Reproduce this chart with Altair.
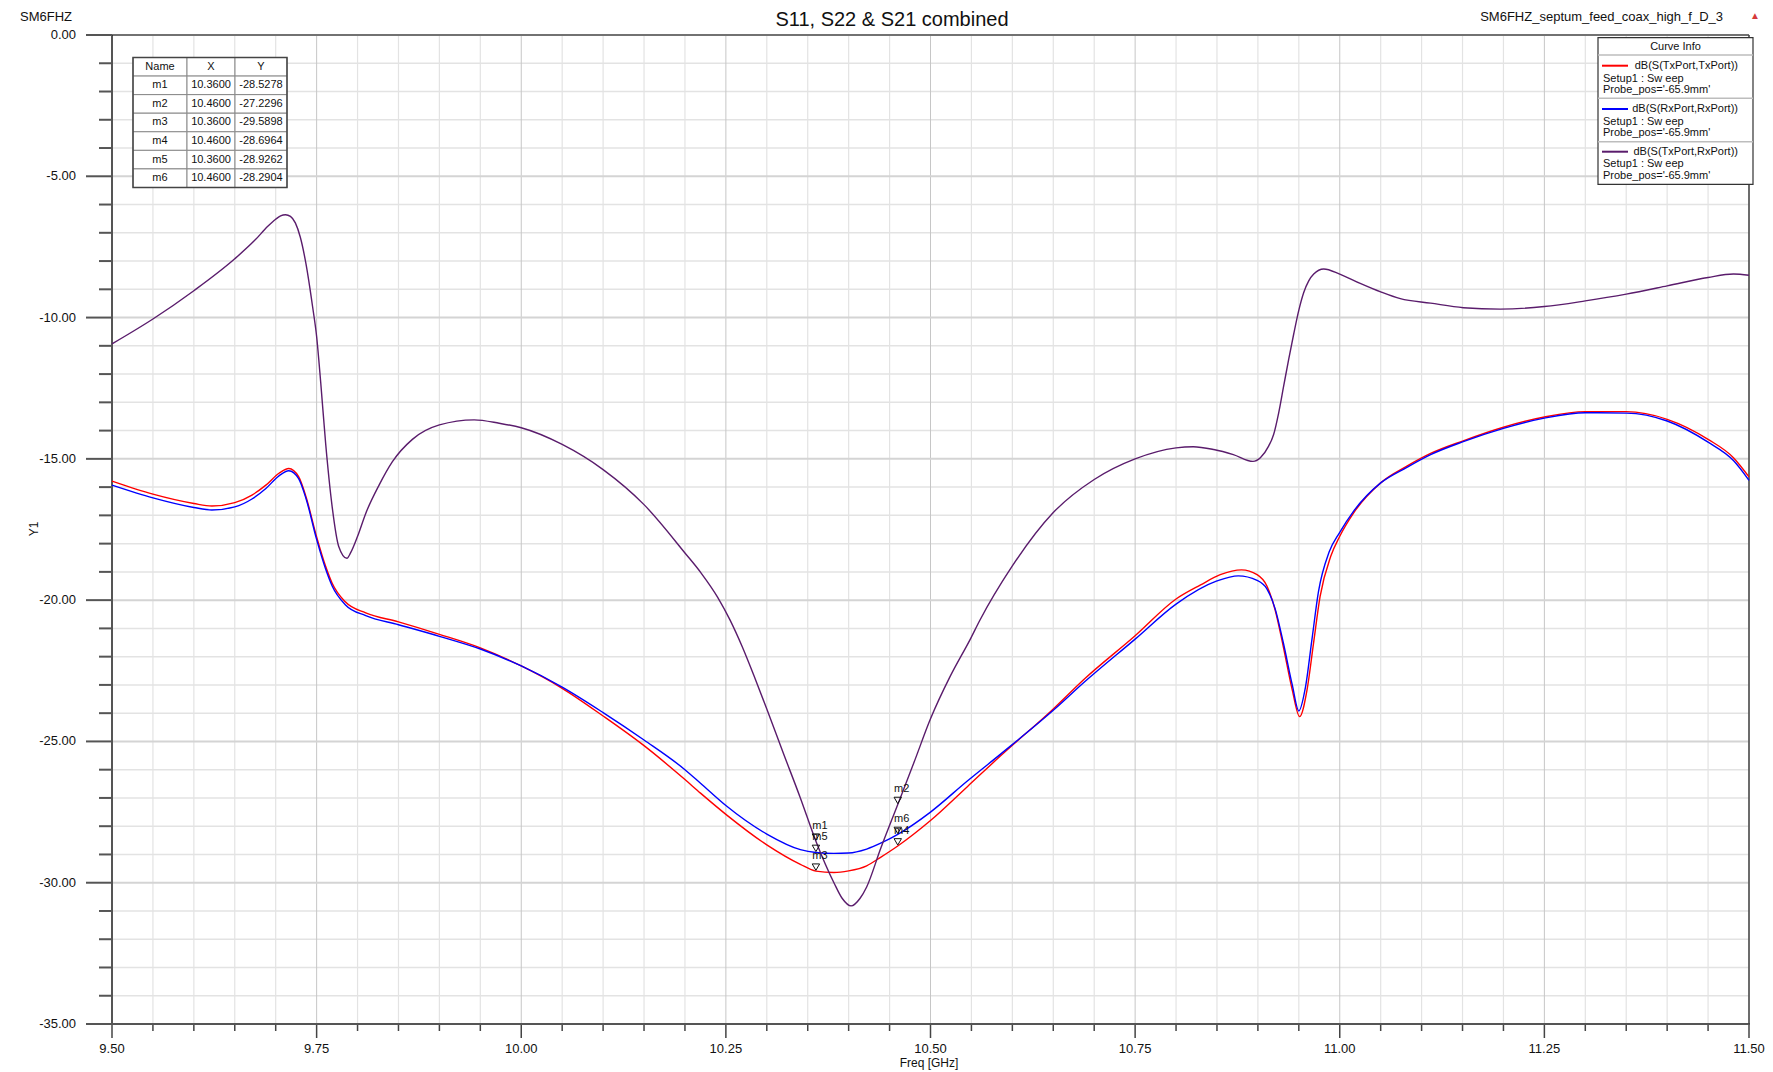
import altair as alt
import pandas as pd

# ---------------- data ----------------
s11_freq = [9.50, 9.55, 9.60, 9.622, 9.65, 9.671, 9.688, 9.704, 9.716, 9.728, 9.737, 9.75, 9.761, 9.769,
            9.785, 9.81, 9.85, 9.90, 9.95, 10.00, 10.05, 10.10, 10.15, 10.20, 10.219, 10.25, 10.30, 10.341,
            10.36, 10.382, 10.40, 10.422, 10.439, 10.46, 10.50, 10.545, 10.586, 10.65, 10.688, 10.75, 10.80,
            10.83, 10.854, 10.88, 10.899, 10.911, 10.921, 10.931, 10.942, 10.951, 10.96, 10.968, 10.976,
            10.989, 11.00, 11.017, 11.05, 11.082, 11.111, 11.15, 11.20, 11.25, 11.30, 11.35, 11.40, 11.45,
            11.481, 11.50]
s11_db = [-15.79, -16.25, -16.58, -16.67, -16.55, -16.28, -15.93, -15.51, -15.34, -15.63, -16.34, -17.76,
          -18.80, -19.40, -20.06, -20.45, -20.77, -21.21, -21.69, -22.33, -23.12, -24.10, -25.15, -26.35,
          -26.83, -27.58, -28.66, -29.35, -29.59, -29.64, -29.58, -29.40, -29.10, -28.70, -27.80, -26.60,
          -25.50, -23.85, -22.79, -21.26, -19.96, -19.46, -19.10, -18.93, -19.10, -19.50, -20.34, -21.64,
          -23.18, -24.12, -23.18, -21.52, -19.87, -18.45, -17.74, -16.91, -15.85, -15.26, -14.81, -14.37,
          -13.88, -13.52, -13.33, -13.33, -13.60, -14.31, -14.96, -15.64]

s22_freq = [9.50, 9.55, 9.60, 9.622, 9.65, 9.671, 9.688, 9.704, 9.716, 9.728, 9.737, 9.75, 9.761, 9.769,
            9.785, 9.81, 9.85, 9.90, 9.95, 10.00, 10.05, 10.10, 10.15, 10.20, 10.219, 10.25, 10.30, 10.341,
            10.36, 10.382, 10.40, 10.422, 10.443, 10.46, 10.50, 10.545, 10.586, 10.65, 10.688, 10.75, 10.80,
            10.85, 10.876, 10.899, 10.911, 10.921, 10.931, 10.942, 10.950, 10.958, 10.966, 10.974, 10.987,
            11.00, 11.017, 11.05, 11.082, 11.111, 11.15, 11.20, 11.25, 11.30, 11.35, 11.40, 11.45, 11.481,
            11.50]
s22_db = [-15.93, -16.38, -16.72, -16.81, -16.70, -16.42, -16.05, -15.60, -15.42, -15.70, -16.40, -17.85,
          -18.90, -19.50, -20.16, -20.55, -20.87, -21.28, -21.73, -22.33, -23.08, -23.98, -24.95, -26.00,
          -26.48, -27.27, -28.28, -28.83, -28.93, -28.96, -28.95, -28.81, -28.55, -28.29, -27.50, -26.40,
          -25.44, -23.90, -22.90, -21.38, -20.14, -19.32, -19.14, -19.30, -19.60, -20.30, -21.50, -23.00,
          -23.92, -23.10, -21.40, -19.70, -18.30, -17.60, -16.85, -15.85, -15.30, -14.85, -14.40, -13.92,
          -13.56, -13.37, -13.38, -13.66, -14.41, -15.06, -15.76]

s21_freq = [9.50, 9.55, 9.60, 9.65, 9.675, 9.69, 9.70, 9.706, 9.712, 9.718, 9.724, 9.730, 9.737, 9.745,
            9.75, 9.755, 9.761, 9.769, 9.777, 9.787, 9.7916, 9.7998, 9.81, 9.8263, 9.8426, 9.867, 9.90,
            9.9425, 9.973, 10.00, 10.05, 10.10, 10.15, 10.20, 10.22, 10.24, 10.255, 10.27, 10.284, 10.30,
            10.32, 10.341, 10.36, 10.382, 10.392, 10.403, 10.414, 10.422, 10.439, 10.46, 10.48, 10.50,
            10.524, 10.549, 10.56, 10.60, 10.65, 10.70, 10.75, 10.80, 10.821, 10.846, 10.87, 10.894, 10.903,
            10.9131, 10.9192, 10.9254, 10.9315, 10.9376, 10.9437, 10.9498, 10.956, 10.9621, 10.9682,
            10.9804, 11.00, 11.025, 11.05, 11.074, 11.111, 11.151, 11.196, 11.25, 11.30, 11.35, 11.40,
            11.45, 11.481, 11.50]
s21_db = [-10.93, -10.05, -9.05, -7.92, -7.25, -6.78, -6.52, -6.40, -6.36, -6.42, -6.65, -7.15, -8.10,
          -9.60, -10.67, -12.30, -14.45, -16.70, -18.10, -18.52, -18.32, -17.76, -16.93, -15.93, -15.10,
          -14.31, -13.80, -13.62, -13.74, -13.90, -14.49, -15.38, -16.62, -18.33, -19.05, -19.90, -20.70,
          -21.65, -22.65, -23.85, -25.40, -27.00, -28.53, -30.00, -30.55, -30.82, -30.55, -30.15, -28.80,
          -27.23, -25.73, -24.20, -22.70, -21.36, -20.73, -18.79, -16.90, -15.73, -15.00, -14.61, -14.57,
          -14.67, -14.85, -15.09, -14.96, -14.55, -14.14, -13.37, -12.42, -11.48, -10.59, -9.76, -9.11,
          -8.70, -8.46, -8.28, -8.46, -8.79, -9.09, -9.33, -9.49, -9.65, -9.70, -9.61, -9.41, -9.17, -8.88,
          -8.58, -8.46, -8.50]

marker_names = ["m1", "m2", "m3", "m4", "m5", "m6"]
marker_freq = [10.36, 10.46, 10.36, 10.46, 10.36, 10.46]
marker_db = [-28.5278, -27.2296, -29.5898, -28.6964, -28.9262, -28.2904]

x_major = [9.50, 9.75, 10.00, 10.25, 10.50, 10.75, 11.00, 11.25, 11.50]
x_minor = [9.55, 9.60, 9.65, 9.70, 9.80, 9.85, 9.90, 9.95, 10.05, 10.10, 10.15, 10.20,
           10.30, 10.35, 10.40, 10.45, 10.55, 10.60, 10.65, 10.70, 10.80, 10.85, 10.90, 10.95,
           11.05, 11.10, 11.15, 11.20, 11.30, 11.35, 11.40, 11.45]
y_major = [0, -5, -10, -15, -20, -25, -30, -35]
y_minor = [-1, -2, -3, -4, -6, -7, -8, -9, -11, -12, -13, -14, -16, -17, -18, -19,
           -21, -22, -23, -24, -26, -27, -28, -29, -31, -32, -33, -34]

series_names = ["dB(S(TxPort,TxPort))", "dB(S(RxPort,RxPort))", "dB(S(TxPort,RxPort))"]
series_colors = ["#ff0000", "#0000ff", "#5a1c6c"]
setup_label = "Setup1 : Sw eep"
probe_label = "Probe_pos='-65.9mm'"

title_text = "S11, S22 & S21 combined"
left_text = "SM6FHZ"
right_text = "SM6FHZ_septum_feed_coax_high_f_D_3"
x_title = "Freq [GHz]"
y_title = "Y1"

# ---------------- layout ----------------
W, H = 1637, 989
FONT = "Liberation Sans"
XS = alt.Scale(domain=[9.5, 11.5], nice=False, zero=False)
YS = alt.Scale(domain=[-35, 0], nice=False, zero=False)
PXN = dict(scale=None, axis=None)
ONE = pd.DataFrame({"k": [0]})


def xf(field):
    return alt.X(field, scale=XS, axis=None)


def yf(field):
    return alt.Y(field, scale=YS, axis=None)


xminor_df = pd.DataFrame({"v": x_minor})
yminor_df = pd.DataFrame({"v": y_minor})
xmajor_df = pd.DataFrame({"v": x_major, "lab": [f"{v:.2f}" for v in x_major]})
ymajor_df = pd.DataFrame({"v": y_major, "lab": [f"{v:.2f}" for v in y_major]})

# grid
minor_grid_x = alt.Chart(xminor_df).mark_rule(color="#e3e3e3", strokeWidth=1.2).encode(x=xf("v:Q"))
minor_grid_y = alt.Chart(yminor_df).mark_rule(color="#e3e3e3", strokeWidth=1.5).encode(y=yf("v:Q"))
major_grid_x = alt.Chart(xmajor_df).mark_rule(color="#c6c6c6", strokeWidth=1).encode(x=xf("v:Q"))
major_grid_y = alt.Chart(ymajor_df).mark_rule(color="#d4d4d4", strokeWidth=2).encode(y=yf("v:Q"))

# ticks
minor_tick_x = alt.Chart(xminor_df).mark_rule(color="#444", strokeWidth=1.5).encode(
    x=xf("v:Q"), y=alt.value(H), y2=alt.value(H + 7))
major_tick_x = alt.Chart(xmajor_df).mark_rule(color="#444", strokeWidth=1.5).encode(
    x=xf("v:Q"), y=alt.value(H), y2=alt.value(H + 14))
minor_tick_y = alt.Chart(yminor_df).mark_rule(color="#555", strokeWidth=2).encode(
    y=yf("v:Q"), x=alt.value(-13), x2=alt.value(0))
major_tick_y = alt.Chart(ymajor_df).mark_rule(color="#555", strokeWidth=2).encode(
    y=yf("v:Q"), x=alt.value(-26), x2=alt.value(0))

# tick labels
lab_x = alt.Chart(xmajor_df).mark_text(fontSize=13, font=FONT, color="#111", align="center",
                                       baseline="middle").encode(
    x=xf("v:Q"), y=alt.value(H + 25), text="lab:N")
lab_y = alt.Chart(ymajor_df).mark_text(fontSize=13, font=FONT, color="#111", align="right",
                                       baseline="middle").encode(
    y=yf("v:Q"), x=alt.value(-36), text="lab:N")

# frame
frame_left = alt.Chart(ONE).mark_rule(color="#555", strokeWidth=2).encode(
    x=alt.value(0), y=alt.value(0), y2=alt.value(H + 1))
frame_bottom = alt.Chart(ONE).mark_rule(color="#555", strokeWidth=2).encode(
    y=alt.value(H), x=alt.value(-1), x2=alt.value(W + 1))
frame_top = alt.Chart(ONE).mark_rule(color="#111", strokeWidth=1).encode(
    y=alt.value(0), x=alt.value(0), x2=alt.value(W))
frame_right = alt.Chart(ONE).mark_rule(color="#444", strokeWidth=1.5).encode(
    x=alt.value(W), y=alt.value(0), y2=alt.value(H))


# curves
def curve(freqs, dbs, color):
    df = pd.DataFrame({"f": freqs, "db": dbs})
    return alt.Chart(df).mark_line(color=color, strokeWidth=1.4, interpolate="monotone").encode(
        x=xf("f:Q"), y=yf("db:Q"))


c11 = curve(s11_freq, s11_db, series_colors[0])
c22 = curve(s22_freq, s22_db, series_colors[1])
c21 = curve(s21_freq, s21_db, series_colors[2])

# markers
mk_df = pd.DataFrame({"name": marker_names, "f": marker_freq, "db": marker_db})
mk_tri = alt.Chart(mk_df).mark_point(shape="triangle-down", filled=False, size=55, color="#111",
                                     strokeWidth=1, opacity=1, yOffset=-4).encode(
    x=xf("f:Q"), y=yf("db:Q"))
mk_lab = alt.Chart(mk_df).mark_text(fontSize=11, font=FONT, color="#111", dx=4, dy=-15).encode(
    x=xf("f:Q"), y=yf("db:Q"), text="name:N")

# marker table (pixel layout)
col_edges = [21, 75, 123, 175]
row_top = 22.5
row_h = 18.57
rows = [["Name", "X", "Y"]] + [[n, f"{f:.4f}", f"{v:.4f}"] for n, f, v in zip(marker_names, marker_freq, marker_db)]
cells = []
for r, row in enumerate(rows):
    for c, txt in enumerate(row):
        cells.append({"x": col_edges[c], "x2": col_edges[c + 1],
                      "y": row_top + r * row_h, "y2": row_top + (r + 1) * row_h,
                      "xc": (col_edges[c] + col_edges[c + 1]) / 2, "yc": row_top + (r + 0.5) * row_h,
                      "t": txt})
cells_df = pd.DataFrame(cells)
tab_cells = alt.Chart(cells_df).mark_rect(fill="white", stroke="#8a8a8a", strokeWidth=1).encode(
    x=alt.X("x:Q", **PXN), x2="x2:Q", y=alt.Y("y:Q", **PXN), y2="y2:Q")
tab_border = alt.Chart(pd.DataFrame({"x": [col_edges[0]], "x2": [col_edges[-1]], "y": [row_top],
                                     "y2": [row_top + len(rows) * row_h]})).mark_rect(
    fillOpacity=0, stroke="#444", strokeWidth=1.5).encode(
    x=alt.X("x:Q", **PXN), x2="x2:Q", y=alt.Y("y:Q", **PXN), y2="y2:Q")
tab_text = alt.Chart(cells_df).mark_text(fontSize=11, font=FONT, color="#111", baseline="middle",
                                         align="center").encode(
    x=alt.X("xc:Q", **PXN), y=alt.Y("yc:Q", **PXN), text="t:N")

# curve info box (pixel layout)
lg_x0, lg_x1, lg_y0, lg_y1 = 1486, 1641, 2.7, 149.3
lg_box = alt.Chart(pd.DataFrame({"x": [lg_x0], "x2": [lg_x1], "y": [lg_y0], "y2": [lg_y1]})).mark_rect(
    fill="white", stroke="#333", strokeWidth=1.2).encode(
    x=alt.X("x:Q", **PXN), x2="x2:Q", y=alt.Y("y:Q", **PXN), y2="y2:Q")
sep_df = pd.DataFrame({"y": [20.0, 63.3, 106.7], "x": [lg_x0] * 3, "x2": [lg_x1] * 3})
lg_sep = alt.Chart(sep_df).mark_rule(color="#bdbdbd", strokeWidth=1.5).encode(
    x=alt.X("x:Q", **PXN), x2="x2:Q", y=alt.Y("y:Q", **PXN))
entry_y = [30.7, 74.0, 116.7]
sw_df = pd.DataFrame({"y": entry_y, "x": [1490] * 3, "x2": [1516] * 3, "c": series_colors})
lg_swatch = alt.Chart(sw_df).mark_rule(strokeWidth=2).encode(
    x=alt.X("x:Q", **PXN), x2="x2:Q", y=alt.Y("y:Q", **PXN), color=alt.Color("c:N", scale=None))
name_df = pd.DataFrame({"y": entry_y, "x": [1626] * 3, "t": series_names})
lg_names = alt.Chart(name_df).mark_text(fontSize=11, font=FONT, color="#111", align="right",
                                        baseline="middle").encode(
    x=alt.X("x:Q", **PXN), y=alt.Y("y:Q", **PXN), text="t:N")
sub_df = pd.DataFrame({"y": [44.0, 55.0, 86.7, 98.3, 129.3, 141.0], "x": [1491] * 6,
                       "t": [setup_label, probe_label] * 3})
lg_sub = alt.Chart(sub_df).mark_text(fontSize=11, font=FONT, color="#111", align="left",
                                     baseline="middle").encode(
    x=alt.X("x:Q", **PXN), y=alt.Y("y:Q", **PXN), text="t:N")
hdr_df = pd.DataFrame({"y": [12.0], "x": [(lg_x0 + lg_x1) / 2], "t": ["Curve Info"]})
lg_hdr = alt.Chart(hdr_df).mark_text(fontSize=11, font=FONT, color="#111", align="center",
                                     baseline="middle").encode(
    x=alt.X("x:Q", **PXN), y=alt.Y("y:Q", **PXN), text="t:N")


# page texts
def ptext(x, y, t, size, align="center", color="#111", angle=0):
    df = pd.DataFrame({"x": [x], "y": [y], "t": [t]})
    return alt.Chart(df).mark_text(fontSize=size, font=FONT, color=color, align=align,
                                   baseline="middle", angle=angle).encode(
        x=alt.X("x:Q", **PXN), y=alt.Y("y:Q", **PXN), text="t:N")


t_title = ptext(780, -15.5, title_text, 20)
t_left = ptext(-92, -18, left_text, 13, align="left")
t_right = ptext(1611, -18, right_text, 13, align="right")
t_icon = ptext(1643, -19, "▲", 10, color="#d63a3a")
t_xt = ptext(817, 1028, x_title, 12)
t_yt = ptext(-78, 494, y_title, 12, angle=270)

chart = alt.layer(
    minor_grid_x, minor_grid_y, major_grid_x, major_grid_y,
    minor_tick_x, major_tick_x, minor_tick_y, major_tick_y, lab_x, lab_y,
    frame_left, frame_bottom, frame_top, frame_right,
    c11, c22, c21, mk_tri, mk_lab,
    tab_cells, tab_border, tab_text,
    lg_box, lg_sep, lg_swatch, lg_names, lg_sub, lg_hdr,
    t_title, t_left, t_right, t_icon, t_xt, t_yt,
).properties(
    width=W, height=H,
    padding={"left": 104, "top": 27, "right": 16, "bottom": 47},
    autosize=alt.AutoSizeParams(type="none"),
    background="white",
).configure(font=FONT).configure_view(strokeWidth=0)

chart.save("out.html", embed_options={"renderer": "svg", "actions": False})
